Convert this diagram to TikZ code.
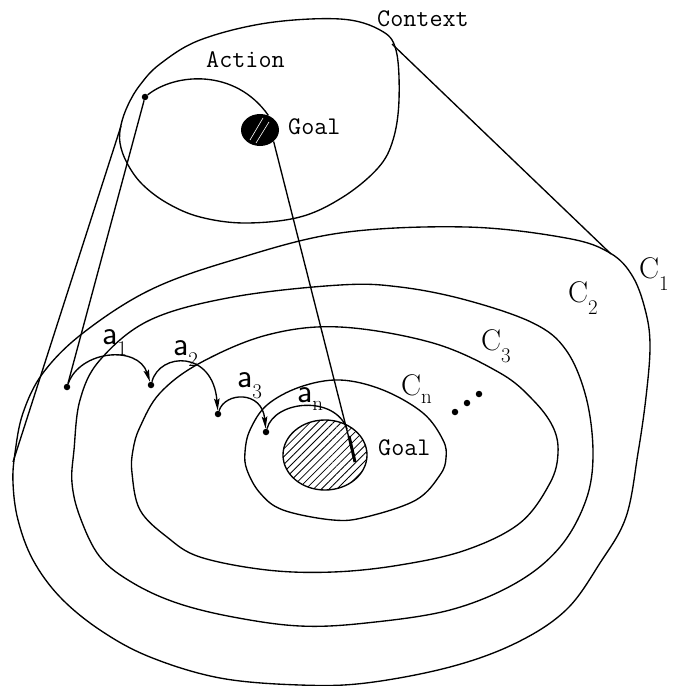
\documentclass[tikz,border=0pt]{standalone}
\usetikzlibrary{arrows.meta,patterns.meta,shapes.geometric}
\newcommand\lsub[2][-11bp]{\raisebox{#1}{\rmfamily\fontsize{21}{21}\selectfont #2}}
\begin{document}
\begin{tikzpicture}[x=1bp,y=-1bp,
  curve/.style={draw=black,line width=1.35bp},
  txt/.style={font=\ttfamily\fontsize{25.5}{25.5}\selectfont,inner sep=0pt,anchor=base west},
  cl/.style={font=\rmfamily\fontsize{30}{30}\selectfont,inner sep=0pt,anchor=base west},
  al/.style={font=\sffamily\fontsize{34}{34}\selectfont,inner sep=0pt,anchor=base west},
  dotn/.style={circle,fill=black,inner sep=0pt,minimum size=6.5bp},
  act/.style={line width=1.35bp,-{Stealth[length=12bp,width=5.5bp,inset=2bp]}},
]
\useasboundingbox (0,0) rectangle (673,686);
\fill[white] (0,0) rectangle (673,686);

% Context blob
\draw[curve] plot[smooth cycle,tension=0.6] coordinates {(121,125) (128,105) (140,85) (160,64) (200,40) (267,23) (340,19) (380,30) (396,50) (399,100) (393,140) (378,168) (343,197) (300,217) (245,223) (200,217) (167,203) (142,184) (127,163) (120,143)};

% C1
\draw[curve] plot[smooth cycle,tension=0.6] coordinates {(340,233) (466,227) (566,238) (610,253) (633,277) (646,313) (650,347) (646,397) (638,453) (626,517) (600,563) (566,610) (516,643) (450,667) (366,683) (300,685) (220,678) (150,657) (100,630) (60,597) (33,560) (18,520) (13,483) (15,453) (23,413) (43,373) (83,333) (150,290) (233,260)};
% C2
\draw[curve] plot[smooth cycle,tension=0.6] coordinates {(340,285) (400,287) (466,300) (533,323) (566,350) (586,397) (593,453) (586,500) (560,547) (516,583) (450,610) (366,623) (300,626) (233,617) (177,603) (133,583) (100,557) (80,517) (72,483) (74,450) (80,400) (100,360) (150,320) (233,297)};
% C3
\draw[curve] plot[smooth cycle,tension=0.6] coordinates {(340,327) (433,343) (500,373) (533,400) (553,427) (558,453) (550,483) (520,523) (466,550) (400,565) (333,572) (267,570) (200,557) (167,537) (140,510) (132,473) (133,450) (140,427) (160,393) (200,363) (267,335)};
% Cn
\draw[curve] plot[smooth cycle,tension=0.6] coordinates {(340,380) (383,390) (423,413) (443,440) (446,458) (440,475) (416,500) (366,517) (333,520) (283,510) (260,493) (247,470) (245,452) (250,430) (267,405) (300,387)};

% tangent lines
\coordinate (tl1) at (121,126);
\coordinate (tl2) at (13,462);
\coordinate (tr1) at (392,44);
\coordinate (tr2) at (611,254);
\draw[curve] (tl1) -- (tl2);
\draw[curve] (tr1) -- (tr2);

% goals
\node[ellipse,fill=black,minimum width=38bp,minimum height=32bp,inner sep=0pt] (g1) at (260,130) {};
\draw[white,line width=0.6bp] (250,140) -- (263,118);
\draw[white,line width=0.6bp] (256,143) -- (269,122);
\node[ellipse,draw=black,line width=1.35bp,pattern={Lines[angle=45,distance=5.5bp,line width=0.8bp]},minimum width=84bp,minimum height=70bp,inner sep=0pt] (g2) at (325,455) {};

% dots
\node[dotn] (d0) at (145,97) {};
\node[dotn] (d1) at (67,387) {};
\node[dotn] (d2) at (151,385) {};
\node[dotn] (d3) at (218,414) {};
\node[dotn] (d4) at (266,432) {};
\node[dotn] (e1) at (455,412) {};
\node[dotn] (e2) at (467,403) {};
\node[dotn] (e3) at (479,394) {};

% action arc and lines
\draw[curve] (d0) .. controls (175,73) and (235,68) .. (g1.60);
\draw[curve] (d0) -- (d1);
\coordinate (gt) at (349,436);
\coordinate (gl) at (355,462);
\draw[curve] (g1.-40) -- (gl);
\draw[line width=3bp] (gt) -- (gl);

% action steps
\draw[act] (d1) .. controls (80,350) and (138,345) .. (d2);
\draw[act] (d2) .. controls (160,352) and (213,350) .. (d3);
\draw[act] (d3) .. controls (225,392) and (262,390) .. (d4);
\coordinate (an) at (347,429);
\draw[curve] (d4) .. controls (275,400) and (335,395) .. (an);

% labels
\node[txt] (lctx) at (377,27) {Context};
\node[txt] (lact) at (206,68) {Action};
\node[txt] (lg1) at (288,135) {Goal};
\node[txt] (lg2) at (378,455) {Goal};
\node[al] (la1) at (102,344) {a\lsub{1}};
\node[al] (la2) at (173,355) {a\lsub{2}};
\node[al] (la3) at (237,387) {a\lsub{3}};
\node[al] (lan) at (297,402) {a\lsub[-8bp]{n}};
\node[cl] (lcn) at (401,395) {C\lsub[-8bp]{n}};
\node[cl] (lc3) at (481,350) {C\lsub[-12bp]{3}};
\node[cl] (lc2) at (568,302) {C\lsub[-12bp]{2}};
\node[cl] (lc1) at (639,278) {C\lsub[-12bp]{1}};
\end{tikzpicture}
\end{document}
